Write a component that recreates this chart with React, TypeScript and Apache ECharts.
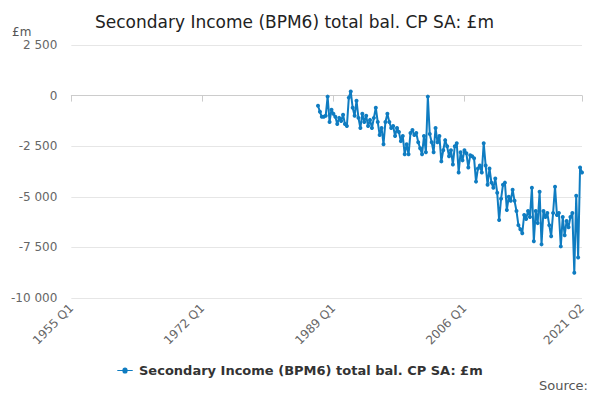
import React, { useEffect, useRef } from 'react';
import * as echarts from 'echarts';

// quarters 1955 Q1 .. 2021 Q2
const quarters: string[] = [];
for (let y = 1955; y <= 2021; y++) {
  for (let q = 1; q <= 4; q++) {
    if (y === 2021 && q > 2) break;
    quarters.push(`${y} Q${q}`);
  }
}

// series starts 1987 Q1
const startLabel = '1987 Q1';
const values1987to1992 = [-500, -800, -1050, -1050, -1000, -50, -1300, -700, -900, -1050, -1400, -1100, -1250, -950, -1400, -1500, -100, 200, -600, -1000, -250, -1100, -1600];
const values1992to1998 = [-900, -1300, -1000, -1500, -1200, -1600, -1100, -600, -1300, -1950, -1600, -2400, -1300, -900, -1300, -1600, -1500, -2000, -1600, -1800, -2250, -2000, -2900, -2400];
const values1998to2005 = [-2900, -1850, -1700, -1950, -1850, -2300, -2600, -2900, -2000, -2800, -50, -1900, -2300, -2800, -1600, -2300, -2000, -3250, -2700, -2200, -2500, -3000, -2700, -3400, -2500];
const values2005to2011 = [-2350, -3800, -2800, -3200, -2700, -2850, -3550, -2950, -3000, -3100, -4250, -3600, -3450, -3800, -2350, -3450, -4400, -3600, -4300, -4550, -4100, -4800, -6150, -5100, -4400];
const values2011to2017 = [-4300, -5650, -5000, -5200, -4650, -5200, -5700, -6400, -6600, -6800, -5900, -6100, -5700, -6000, -4550, -7200, -5700, -6300, -4750, -7350, -5700, -6000, -5800, -6400];
const values2017to2021 = [-6950, -5800, -4500, -5900, -5800, -7450, -6000, -6900, -6200, -6500, -6000, -5800, -8750, -4950, -8000, -3550, -3800];

const yTicks = { min: -10000, max: 2500, interval: 2500 };
const seriesName = 'Secondary Income (BPM6) total bal. CP SA: £m';

const fmt = (v: number) => {
  const s = Math.abs(v).toString().replace(/\B(?=(\d{3})+(?!\d))/g, ' ');
  return (v < 0 ? '-' : '') + s;
};

const App: React.FC = () => {
  const ref = useRef<HTMLDivElement>(null);

  useEffect(() => {
    if (!ref.current) return;
    const chart = echarts.init(ref.current, undefined, { renderer: 'svg' });
    const all = [...values1987to1992, ...values1992to1998, ...values1998to2005, ...values2005to2011, ...values2011to2017, ...values2017to2021];
    const start = quarters.indexOf(startLabel);
    const data = quarters.map((_, i) => (i >= start && i - start < all.length ? all[i - start] : null));
    const last = quarters.length - 1;
    const showTick = (i: number) => i % 68 === 0 || i === last;
    const font = 'DejaVu Sans';

    chart.setOption({
      animation: false,
      textStyle: { fontFamily: font },
      title: {
        text: 'Secondary Income (BPM6) total bal. CP SA: £m',
        left: 82,
        top: 0,
        textStyle: { fontFamily: font, fontSize: 17, fontWeight: 'normal', color: '#222' },
      },
      grid: { left: 60, right: 10, top: 37, bottom: 94 },
      legend: {
        bottom: 10,
        left: 'center',
        icon: 'path://M0,4 L6,4 A3,3 0 1,1 12,4 L18,4 L18,5 L12,5 A3,3 0 1,1 6,5 L0,5 Z',
        itemWidth: 18,
        itemHeight: 6,
        textStyle: { fontFamily: font, fontSize: 13, fontWeight: 'bold', color: '#333' },
      },
      graphic: [
        { type: 'text', left: 4, top: 18, style: { text: '£m', font: `12px "${font}"`, fill: '#555' } },
        { type: 'text', right: 4, bottom: 0, style: { text: 'Source:', font: `13px "${font}"`, fill: '#555' } },
      ],
      xAxis: {
        type: 'category',
        data: quarters,
        boundaryGap: false,
        axisLine: { lineStyle: { color: '#ccc' } },
        axisTick: { interval: (i: number) => showTick(i), length: 6, lineStyle: { color: '#ccc' } },
        axisLabel: {
          interval: (i: number) => showTick(i),
          rotate: 45,
          color: '#666',
          fontSize: 12,
          fontFamily: font,
          margin: 8,
        },
        splitLine: { show: false },
      },
      yAxis: {
        type: 'value',
        ...yTicks,
        axisLine: { show: false },
        axisTick: { show: false },
        axisLabel: { color: '#666', fontSize: 12, fontFamily: font, formatter: (v: number) => fmt(v), margin: 14 },
        splitLine: { lineStyle: { color: '#e6e6e6' } },
      },
      series: [
        {
          name: seriesName,
          type: 'line',
          data,
          connectNulls: false,
          symbol: 'circle',
          symbolSize: 4,
          showAllSymbol: true,
          lineStyle: { width: 2, color: '#0f7cc1' },
          itemStyle: { color: '#0f7cc1' },
        },
      ],
    });
    return () => chart.dispose();
  }, []);

  return <div ref={ref} style={{ width: 584, height: 384 }} />;
};

export default App;
